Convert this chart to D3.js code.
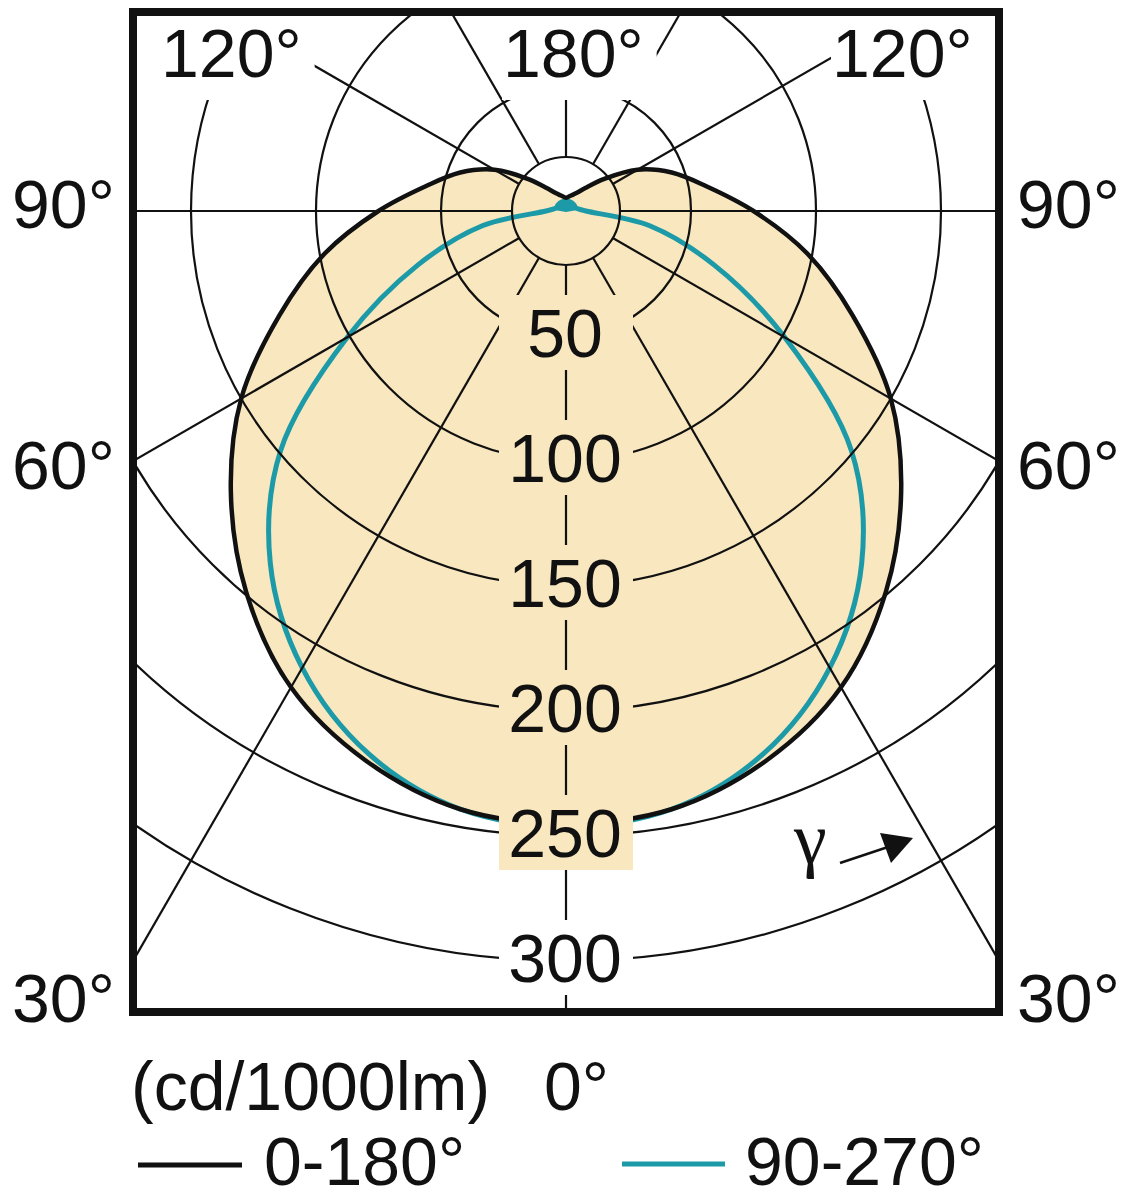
<!DOCTYPE html>
<html><head><meta charset="utf-8">
<script src="https://cdn.jsdelivr.net/npm/d3@7"></script>
<style>
body{margin:0;background:#fff}
text{font-family:"Liberation Sans",Arial,sans-serif;fill:#111}
</style>
</head><body>
<script>
// ---------- data ----------
const gammaAngles = [0,10,20,30,40,50,60,70,80,90,100,110,120,130,140,150,160,170,180];
const plane0_180  = [245,243,234,220,199,175,150,122,98,75,57,45,33,20,12,8.3,6.7,5.8,5.3];
const plane90_270 = [246,243,231,211,184,149,101,63,34,8,5,4,4,4,4,4,4,4,4];
const ringValues  = [50,100,150,200,250,300];
const spokeAngles = [0,30,60,90,120,150,180];
const topLabels   = ["120°","180°","120°"];
const sideLabels  = ["90°","60°","30°"];
const unitLabel   = "(cd/1000lm)";
const zeroLabel   = "0°";
const legendNames = ["0-180°","90-270°"];
const gammaSymbol = "γ";

// ---------- layout ----------
const W = 1122, H = 1200;
const cx = 566, cy = 211;
const innerR = 54;
const frame = {x0:137, y0:16, x1:995, y1:1008};
const beige = "#f8e7bf", teal = "#1d9aa7";
const fontSize = 68;

const r = d3.scaleLinear().domain([0,300]).range([0,750]);
const rad = d => d*Math.PI/180;
const pt = (g, px) => [cx + px*Math.sin(rad(g)), cy + px*Math.cos(rad(g))];

const svg = d3.select("body").append("svg").attr("width",W).attr("height",H);
svg.append("defs").append("clipPath").attr("id","fr").append("rect")
  .attr("x",frame.x0).attr("y",frame.y0).attr("width",frame.x1-frame.x0).attr("height",frame.y1-frame.y0);

function fullCurve(vals){
  const half = gammaAngles.map((g,i)=>({g, v:vals[i]}));
  return half.concat(half.slice(1,-1).reverse().map(d=>({g:-d.g, v:d.v})));
}
const radial = d3.lineRadial()
  .angle(d => Math.PI - rad(d.g))
  .radius(d => r(d.v))
  .curve(d3.curveCatmullRomClosed.alpha(0.5));

const plot = svg.append("g").attr("clip-path","url(#fr)");
const polar = plot.append("g").attr("transform",`translate(${cx},${cy})`);

// fill of the 0-180 distribution
polar.append("path").datum(fullCurve(plane0_180)).attr("d",radial)
  .attr("fill",beige).attr("stroke","none");

// grid circles
plot.selectAll("circle.ring").data(ringValues).join("circle").attr("class","ring")
  .attr("cx",cx).attr("cy",cy).attr("r",d=>r(d))
  .attr("fill","none").attr("stroke","#111").attr("stroke-width",2.2);

// spokes
const spokes = [];
spokeAngles.forEach(g => { spokes.push(g); if (g>0 && g<180) spokes.push(-g); });
plot.selectAll("line.spoke").data(spokes).join("line").attr("class","spoke")
  .attr("x1",g=>pt(g,innerR)[0]).attr("y1",g=>pt(g,innerR)[1])
  .attr("x2",g=>pt(g,2000)[0]).attr("y2",g=>pt(g,2000)[1])
  .attr("stroke","#111").attr("stroke-width",2.2);

// inner circle
plot.append("circle").attr("cx",cx).attr("cy",cy).attr("r",innerR)
  .attr("fill","none").attr("stroke","#111").attr("stroke-width",2.2);

// back lobe of 90-270 plane (gamma >= 100), filled
const lobe = fullCurve(plane90_270).filter(d => Math.abs(d.g) >= 100);
lobe.sort((a,b) => (a.g<0 ? 360+a.g : a.g) - (b.g<0 ? 360+b.g : b.g));
lobe.push({g:0, v:0});
polar.append("path").datum(lobe)
  .attr("d", d3.lineRadial().angle(d => Math.PI - rad(d.g)).radius(d => r(d.v)).curve(d3.curveLinearClosed))
  .attr("fill",teal).attr("stroke",teal).attr("stroke-width",2);

// curves
polar.append("path").datum(fullCurve(plane90_270)).attr("d",radial)
  .attr("fill","none").attr("stroke",teal).attr("stroke-width",5).attr("stroke-linejoin","round");
polar.append("path").datum(fullCurve(plane0_180)).attr("d",radial)
  .attr("fill","none").attr("stroke","#111").attr("stroke-width",4.5).attr("stroke-linejoin","round");

// radial value labels with boxes
const rl = svg.append("g");
ringValues.forEach(v => {
  const yc = cy + r(v) - 3;
  rl.append("rect").attr("x",cx-67).attr("y",yc-38).attr("width",134).attr("height",75)
    .attr("fill", v <= 250 ? beige : "#fff");
  rl.append("text").attr("x",cx-1).attr("y",yc+24).attr("text-anchor","middle")
    .attr("font-size",fontSize).text(v);
});

// top angle labels with white boxes
const topX = [161, 503, 832];
topLabels.forEach((t,i) => {
  const g = svg.append("g");
  const rect = g.append("rect").attr("fill","#fff");
  const tx = g.append("text").attr("x",topX[i]).attr("y",77).attr("font-size",fontSize).text(t);
  const bb = tx.node().getBBox();
  rect.attr("x",bb.x-1).attr("y",frame.y0).attr("width",bb.width+14).attr("height",100-frame.y0);
});

// side angle labels
const sideY = [228, 489, 1022];
sideLabels.forEach((t,i) => {
  svg.append("text").attr("x",12).attr("y",sideY[i]).attr("font-size",fontSize).text(t);
  svg.append("text").attr("x",1017).attr("y",sideY[i]).attr("font-size",fontSize).text(t);
});

// frame
svg.append("rect").attr("x",133).attr("y",12).attr("width",866).attr("height",1000)
  .attr("fill","none").attr("stroke","#111").attr("stroke-width",8);

// gamma arrow
svg.append("text").attr("x",794).attr("y",863).attr("font-size",74)
  .style("font-family","'Liberation Serif','DejaVu Serif',serif").text(gammaSymbol);
svg.append("line").attr("x1",840).attr("y1",863).attr("x2",888).attr("y2",847)
  .attr("stroke","#111").attr("stroke-width",2.5);
svg.append("path").attr("d","M913,838 L880,833 L891,863 Z").attr("fill","#111");

// unit and 0° label
svg.append("text").attr("x",131).attr("y",1110).attr("font-size",fontSize).text(unitLabel);
svg.append("text").attr("x",544).attr("y",1110).attr("font-size",fontSize).text(zeroLabel);

// legend
svg.append("line").attr("x1",138).attr("x2",242).attr("y1",1165).attr("y2",1165)
  .attr("stroke","#111").attr("stroke-width",5);
svg.append("text").attr("x",264).attr("y",1185).attr("font-size",fontSize).text(legendNames[0]);
svg.append("line").attr("x1",622).attr("x2",725).attr("y1",1164).attr("y2",1164)
  .attr("stroke",teal).attr("stroke-width",5);
svg.append("text").attr("x",745).attr("y",1185).attr("font-size",fontSize).text(legendNames[1]);
</script>
</body></html>
